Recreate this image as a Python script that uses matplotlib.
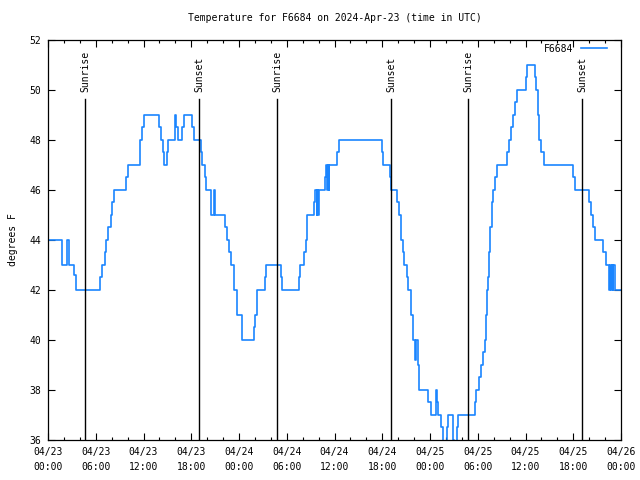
import numpy as np
import matplotlib
matplotlib.use("Agg")
import matplotlib.pyplot as plt
from matplotlib.ticker import MultipleLocator, FixedLocator

""" temperature trace, hours since 04/23 00:00 UTC -> degrees F (step data) """
hours = [0.0, 1.8, 2.4, 2.6, 3.3, 3.5, 6.55, 6.8, 7.1, 7.3, 7.6, 7.9, 8.1, 8.3,
         9.85, 10.0, 11.6, 11.85, 12.05, 13.9, 14.15, 14.45, 14.6, 14.95, 15.1,
         15.9, 16.0, 16.1, 16.35, 16.9, 17.1, 18.15, 18.35, 19.2, 19.35, 19.7,
         19.9, 20.45, 20.85, 21.0, 22.2, 22.45, 22.8, 23.0, 23.35, 23.75, 24.35,
         25.85, 26.0, 26.3, 27.25, 27.45, 29.25, 29.4, 31.5, 31.65, 32.2, 32.4,
         32.6, 33.45, 33.55, 33.75, 33.85, 33.95, 34.05, 34.75, 34.9, 35.05,
         35.15, 35.25, 35.35, 36.35, 36.55, 42.0, 42.05, 43.0, 43.15, 43.85,
         44.05, 44.3, 44.55, 44.7, 45.1, 45.25, 45.55, 45.65, 45.9, 46.1, 46.3,
         46.45, 46.65, 47.7, 47.85, 48.15, 48.75, 48.9, 49.0, 49.4, 49.6, 50.15,
         50.3, 50.9, 51.0, 51.35, 51.5, 53.65, 53.8, 54.1, 54.4, 54.7, 54.9,
         55.0, 55.15, 55.3, 55.45, 55.6, 55.75, 55.85, 55.95, 56.2, 56.45, 57.7,
         57.95, 58.2, 58.45, 58.7, 58.95, 60.0, 60.15, 61.2, 61.35, 61.6, 61.75,
         62.0, 62.35, 66.0, 66.2, 68.0, 68.2, 68.45, 68.75, 69.8, 70.1, 70.5,
         70.6, 70.75, 70.85, 70.95, 71.05, 71.2, 72.0]
temps = [44, 43, 44, 43, 42.6, 42, 42.5, 43, 43.5, 44, 44.5, 45, 45.5, 46,
         46.5, 47, 48, 48.5, 49, 48.5, 48, 47.5, 47, 47.5, 48,
         48.5, 49, 48.5, 48, 48.5, 49, 48.5, 48, 47.5, 47, 46.5,
         46, 45, 46, 45, 44.5, 44, 43.5, 43, 42, 41, 40,
         40.5, 41, 42, 42.5, 43, 42.5, 42, 42.5, 43, 43.5, 44,
         45, 45.5, 46, 45, 46, 45, 46, 46.5, 47, 46,
         47, 46, 47, 47.5, 48, 47.5, 47, 46.5, 46, 45.5,
         45, 44, 43.5, 43, 42.5, 42, 41.5, 41, 40, 39.2, 40,
         39, 38, 37.5, 37.5, 37, 38, 37.5, 37, 36.5, 35.5, 36.5,
         37, 36, 35.5, 36.5, 37, 37.5, 38, 38.5, 39, 39.5, 40,
         41, 42, 42.5, 43.5, 44.5, 45, 45.5, 46, 46.5, 47, 47.5,
         48, 48.5, 49, 49.5, 50, 50.5, 51, 50.5, 50, 49, 48,
         47.5, 47, 46.5, 46, 45.5, 45, 44.5, 44, 43.5, 43, 42,
         43, 42, 43, 42, 43, 42, 42]

sunrise = [4.65, 28.78, 52.78]
sunset = [18.97, 43.1, 67.1]

day_labels = ["04/23", "04/23", "04/23", "04/23", "04/24", "04/24", "04/24",
              "04/24", "04/25", "04/25", "04/25", "04/25", "04/26"]
time_labels = ["00:00", "06:00", "12:00", "18:00"] * 3 + ["00:00"]

mono = "DejaVu Sans Mono"
fs = 7

fig = plt.figure(figsize=(6.4, 4.8), dpi=100)
ax = fig.add_axes([48 / 640, 40 / 480, 573 / 640, 400 / 480])

ax.step(hours, temps, where="post", color="#1a85ff", lw=1.2, label="F6684")

# sunrise / sunset markers
for h in sunrise:
    ax.plot([h, h], [36, 49.63], color="black", lw=1.0)
    ax.text(h, 49.9, "Sunrise", rotation=90, ha="center", va="bottom",
            fontsize=fs, family=mono)
for h in sunset:
    ax.plot([h, h], [36, 49.63], color="black", lw=1.0)
    ax.text(h, 49.9, "Sunset", rotation=90, ha="center", va="bottom",
            fontsize=fs, family=mono)

ax.set_xlim(0, 72)
ax.set_ylim(36, 52)

xt = np.arange(0, 73, 6)
ax.xaxis.set_major_locator(FixedLocator(xt))
ax.set_xticklabels([d + "\n" + t for d, t in zip(day_labels, time_labels)],
                   family=mono, fontsize=fs, linespacing=1.6)
ax.xaxis.set_minor_locator(MultipleLocator(2))
ax.yaxis.set_major_locator(MultipleLocator(2))
for lab in ax.get_yticklabels():
    lab.set_family(mono)
    lab.set_fontsize(fs)

ax.tick_params(which="both", direction="in", top=True, right=True, width=0.8)
ax.tick_params(which="major", length=5, pad=5)
ax.tick_params(which="minor", length=2.5)
for s in ax.spines.values():
    s.set_linewidth(0.9)

ax.set_title("Temperature for F6684 on 2024-Apr-23 (time in UTC)",
             family=mono, fontsize=fs, pad=14)
ax.set_ylabel("degrees F", family=mono, fontsize=fs)
ax.yaxis.set_label_coords(-0.052, 0.5)

leg = ax.legend(loc="upper right", frameon=False, markerfirst=False,
                handlelength=2.6, handletextpad=0.8,
                prop={"family": mono, "size": fs},
                bbox_to_anchor=(0.985, 1.005), borderaxespad=0.2)

fig.savefig("out.png", dpi=100)
